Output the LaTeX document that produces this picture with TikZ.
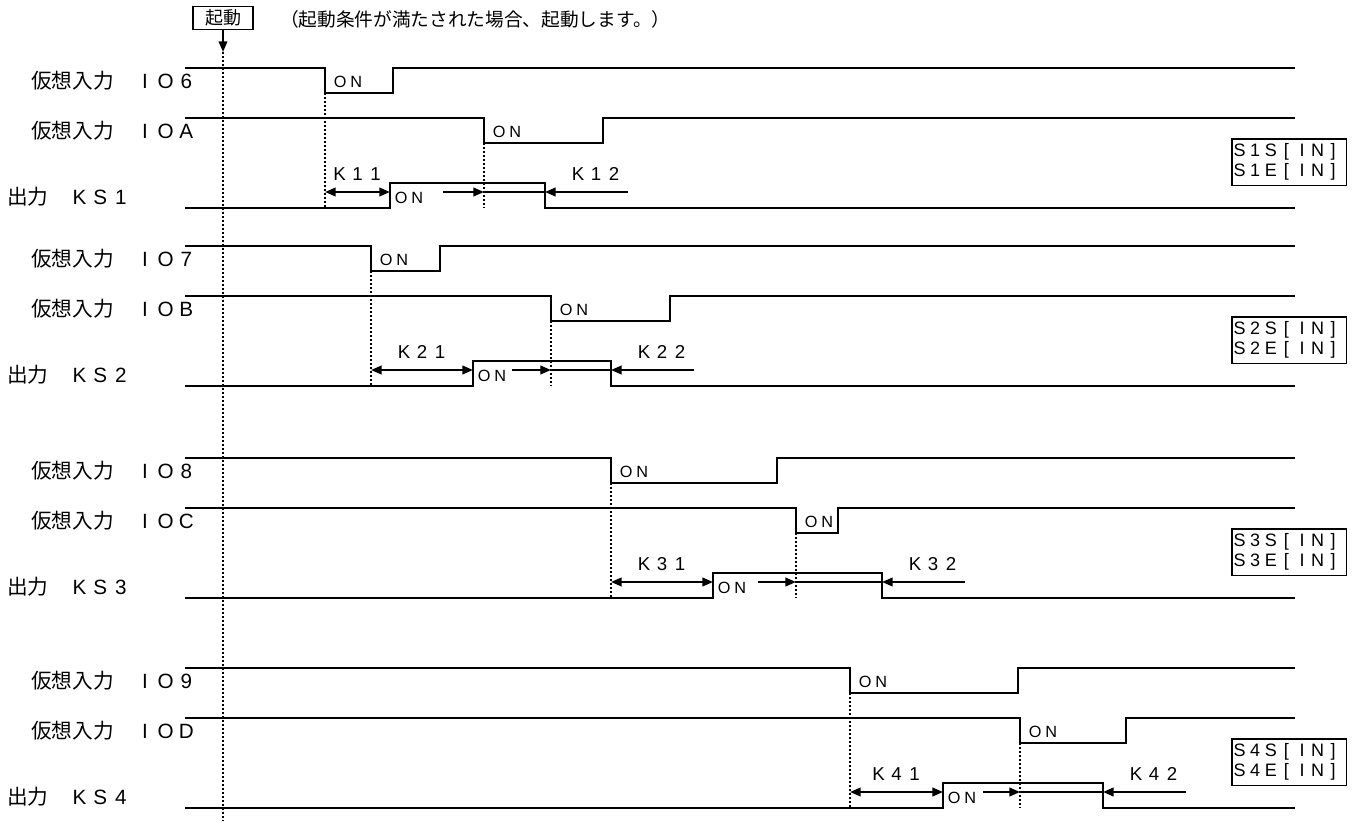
\documentclass[tikz,border=0pt]{standalone}
\usepackage{fontspec}
\setmainfont{Noto Sans CJK JP}
\newfontfamily\latinfont{Liberation Sans}
\usetikzlibrary{arrows.meta,positioning}

% fixed-pitch latin letters
\makeatletter
\newcommand\spaced[2]{{\latinfont\@tfor\sc:=#2\do{\makebox[#1]{\sc}}}}
\makeatother

\begin{document}
\begin{tikzpicture}[x=0.75pt, y=-0.75pt, >={Triangle[length=8pt,width=6.5pt]},
    sig/.style={line width=2pt},
    arr/.style={line width=1.5pt},
    guide/.style={line width=1pt, dash pattern=on 1.5pt off 1.5pt},
    lbl/.style={font=\fontsize{15.5}{18}\selectfont, anchor=west, inner sep=0pt},
    ontext/.style={font=\fontsize{12.2}{14}\selectfont, anchor=west, inner sep=0pt},
    ktext/.style={font=\fontsize{14}{16}\selectfont, inner sep=0pt},
    tag/.style={draw, line width=1.2pt, font=\fontsize{13.5}{15}\selectfont, align=left,
                text width=86pt, minimum height=35pt, inner sep=0pt, anchor=north west}]
  \useasboundingbox (0,0) rectangle (1359,821);

  % start marker
  \node[draw, line width=1.2pt, font=\fontsize{13.5}{15}\selectfont, inner sep=0pt,
        minimum width=45pt, minimum height=17pt] (start) at (223,18) {起動};
  \node[font=\fontsize{14}{16}\selectfont, anchor=west, inner sep=0pt] (note) at (280,19)
        {（起動条件が満たされた場合、起動します。）};
  \coordinate (t0) at (223,52);
  \coordinate (t1) at (223,821);
  \draw[->, line width=1.2pt] (start.south) -- (t0);
  \draw[guide] (t0) -- (t1);

  % four steps
  \foreach \n/\ia/\ib/\yy/\fa/\ra/\fb/\rb/\ks/\ke/\og in
     {1/6/A/68/325/393/484/603/390/545/53,
      2/7/B/246/371/440/551/670/473/611/39,
      3/8/C/458/611/777/796/838/713/882/45,
      4/9/D/668/850/1018/1020/1126/943/1103/40}
  {
    \pgfmathsetmacro\yb{\yy+50}
    \pgfmathsetmacro\yh{\yy+115}
    \pgfmathsetmacro\yl{\yy+140}
    \pgfmathsetmacro\yk{\yy+124}

    \node[lbl] (va\n) at (31,\yy+13) {仮想入力　\spaced{15.5pt}{IO\ia}};
    \node[lbl] (vb\n) at (31,\yb+13) {仮想入力　\spaced{15.5pt}{IO\ib}};
    \node[lbl] (out\n) at (7,\yh+14) {出力　\spaced{15.5pt}{KS\n}};

    \draw[sig] (185,\yy) -- (\fa,\yy) -- (\fa,\yy+25) -- (\ra,\yy+25) -- (\ra,\yy) -- (1295,\yy);
    \draw[sig] (185,\yb) -- (\fb,\yb) -- (\fb,\yb+25) -- (\rb,\yb+25) -- (\rb,\yb) -- (1295,\yb);
    \draw[sig] (185,\yl) -- (\ks,\yl) -- (\ks,\yh) -- (\ke,\yh) -- (\ke,\yl) -- (1295,\yl);

    \draw[guide] (\fa,\yy+25) -- (\fa,\yl);
    \draw[guide] (\fb,\yb+25) -- (\fb,\yl);

    \node[ontext] (ona\n) at (\fa+7,\yy+13.5) {\spaced{12pt}{ON}};
    \node[ontext] (onb\n) at (\fb+7,\yb+13.5) {\spaced{12pt}{ON}};
    \node[ontext] (onk\n) at (\ks+3,\yh+14.5) {\spaced{12pt}{ON}};

    \draw[<->, arr] (\fa,\yk) -- (\ks,\yk);
    \node[ktext] (ka\n) at ({(\fa+\ks)/2},\yh-9) {\spaced{13.5pt}{K\n1}};
    \draw[->, arr] (\ks+\og,\yk) -- (\fb,\yk);
    \draw[line width=1pt] (\fb,\yk) -- (\ke,\yk);
    \draw[->, arr] (\ke+83,\yk) -- (\ke,\yk);
    \node[ktext] (kb\n) at (\ke+51,\yh-9) {\spaced{13.5pt}{K\n2}};

    \node[tag] (tag\n) at (1231,\yb+20) {\spaced{11.7pt}{S\n S[IN]}\\\spaced{11.7pt}{S\n E[IN]}};
  }
\end{tikzpicture}
\end{document}
